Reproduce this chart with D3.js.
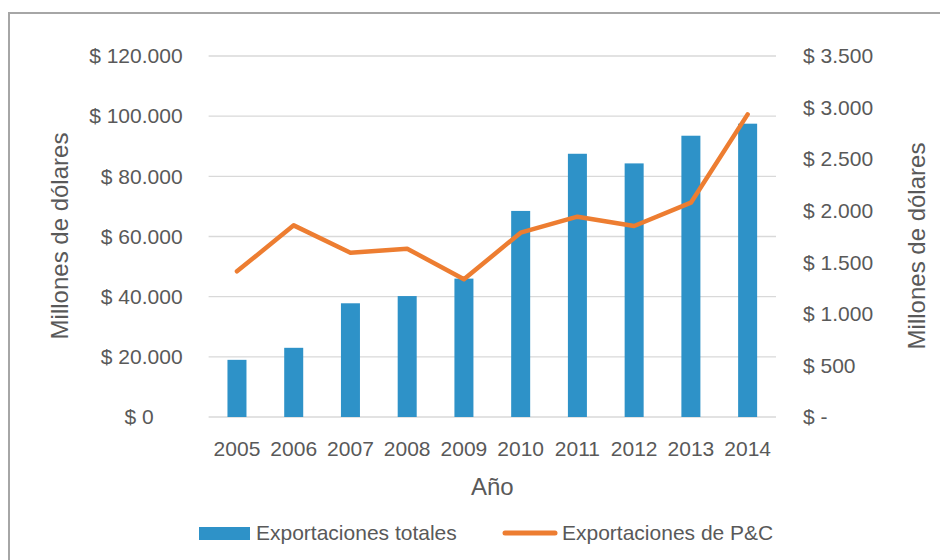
<!DOCTYPE html>
<html>
<head>
<meta charset="utf-8">
<script src="https://cdn.jsdelivr.net/npm/d3@7"></script>
<style>
  html, body { margin: 0; padding: 0; background: #fff; }
  svg { display: block; }
  text { font-family: "Liberation Sans", Arial, sans-serif; fill: #595959; }
</style>
</head>
<body>
<svg id="chart" width="940" height="560"></svg>
<script>
// ---- data ----
const years = ["2005","2006","2007","2008","2009","2010","2011","2012","2013","2014"];
const totalExports = [19000, 23000, 37800, 40200, 46000, 68500, 87500, 84300, 93500, 97500];
const pcExports = [1412, 1858, 1593, 1632, 1335, 1787, 1942, 1852, 2078, 2934];
const leftTicks = [0, 20000, 40000, 60000, 80000, 100000, 120000];
const rightTicks = [0, 500, 1000, 1500, 2000, 2500, 3000, 3500];
const seriesNames = ["Exportaciones totales", "Exportaciones de P&C"];
const axisTitleY = "Millones de dólares";
const axisTitleX = "Año";

// ---- layout ----
const svg = d3.select("#chart");
const plot = { left: 208.6, right: 776, top: 56, bottom: 417 };
const blue = "#2E92C8", orange = "#ED7D31";

const thousands = d3.formatLocale({ decimal: ",", thousands: ".", grouping: [3], currency: ["$", ""] }).format(",.0f");
const fmtLeft = v => v === 0 ? "$ 0" : "$ " + thousands(v);
const fmtRight = v => v === 0 ? "$ -" : "$ " + thousands(v);

const x = d3.scaleBand().domain(years).range([plot.left, plot.right])
  .paddingInner(0.665).paddingOuter(0.3325);
const yL = d3.scaleLinear().domain([0, 120000]).range([plot.bottom, plot.top]);
const yR = d3.scaleLinear().domain([0, 3500]).range([plot.bottom, plot.top]);

// frame
svg.append("rect").attr("x", 9).attr("y", 13).attr("width", 1000).attr("height", 1000)
  .attr("fill", "none").attr("stroke", "#a6a6a6").attr("stroke-width", 2);

// gridlines
svg.append("g").selectAll("line").data(leftTicks).join("line")
  .attr("x1", plot.left).attr("x2", plot.right)
  .attr("y1", d => yL(d)).attr("y2", d => yL(d))
  .attr("stroke", "#d9d9d9").attr("stroke-width", 1.3);

// left axis
const gL = svg.append("g").attr("transform", `translate(${plot.left},0)`)
  .call(d3.axisLeft(yL).tickValues(leftTicks).tickFormat(fmtLeft).tickSize(0).tickPadding(26));
gL.select(".domain").remove();
gL.selectAll("text").style("font-size", "21px").attr("fill", "#595959")
  .attr("font-family", null)
  .attr("dx", d => d === 0 ? -29 : 0);

// right axis
const gR = svg.append("g").attr("transform", `translate(${plot.right},0)`)
  .call(d3.axisRight(yR).tickValues(rightTicks).tickFormat(fmtRight).tickSize(0).tickPadding(27));
gR.select(".domain").remove();
gR.selectAll("text").style("font-size", "21px").attr("fill", "#595959").attr("font-family", null);

// bottom axis
const gB = svg.append("g").attr("transform", `translate(0,${plot.bottom})`)
  .call(d3.axisBottom(x).tickSize(0).tickPadding(24));
gB.select(".domain").remove();
gB.selectAll("text").style("font-size", "21px").attr("fill", "#595959").attr("font-family", null);

// bars
svg.append("g").selectAll("rect").data(years).join("rect")
  .attr("x", d => x(d)).attr("width", x.bandwidth())
  .attr("y", (d, i) => yL(totalExports[i]))
  .attr("height", (d, i) => yL(0) - yL(totalExports[i]))
  .attr("fill", blue);

// line
const line = d3.line().x((d, i) => x(years[i]) + x.bandwidth() / 2).y(d => yR(d));
svg.append("path").datum(pcExports).attr("d", line)
  .attr("fill", "none").attr("stroke", orange).attr("stroke-width", 4.5)
  .attr("stroke-linejoin", "round").attr("stroke-linecap", "round");

// axis titles
svg.append("text").attr("transform", "translate(68,236) rotate(-90)")
  .attr("text-anchor", "middle").style("font-size", "24px").text(axisTitleY);
svg.append("text").attr("transform", "translate(925,246) rotate(-90)")
  .attr("text-anchor", "middle").style("font-size", "24px").text(axisTitleY);
svg.append("text").attr("x", (plot.left + plot.right) / 2).attr("y", 495)
  .attr("text-anchor", "middle").style("font-size", "24px").text(axisTitleX);

// legend
const lg = svg.append("g");
lg.append("rect").attr("x", 199).attr("y", 527).attr("width", 51).attr("height", 13).attr("fill", blue);
lg.append("text").attr("x", 256).attr("y", 540).style("font-size", "21px").text(seriesNames[0]);
lg.append("line").attr("x1", 505).attr("x2", 555).attr("y1", 533).attr("y2", 533)
  .attr("stroke", orange).attr("stroke-width", 5).attr("stroke-linecap", "round");
lg.append("text").attr("x", 562).attr("y", 540).style("font-size", "21px").text(seriesNames[1]);
</script>
</body>
</html>
